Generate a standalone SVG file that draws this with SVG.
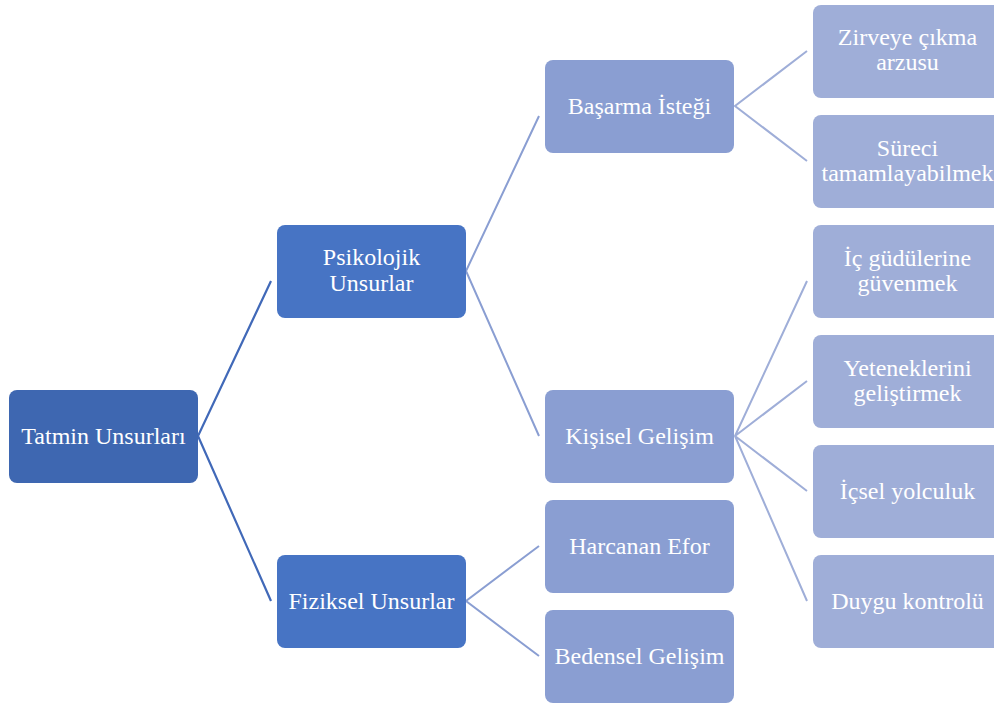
<svg xmlns="http://www.w3.org/2000/svg" width="994" height="704" viewBox="0 0 994 704">
<style>
.t{font-family:'Liberation Serif','Times New Roman',serif;font-size:24px;fill:#ffffff;text-anchor:middle}
.l0{fill:#3E67B1}
.l1{fill:#4774C4}
.l2{fill:#8A9ED2}
.l3{fill:#9FAED8}
.c0{stroke:#4169B8;stroke-width:2.2;fill:none}
.c1{stroke:#8A9ED2;stroke-width:2;fill:none}
.c2{stroke:#9FAED8;stroke-width:2;fill:none}
</style>
<rect width="994" height="704" fill="#ffffff"/>
<g id="connectors">
<polyline class="c0" points="271,281 198,436 271,601"/>
<polyline class="c1" points="539,116 466,271 539,436"/>
<polyline class="c1" points="539,546 466,601 539,656"/>
<polyline class="c2" points="807,51 735,106 807,161"/>
<path class="c2" d="M807,281 L735,436 L807,601 M735,436 L807,381 M735,436 L807,491"/>
</g>
<g id="n-root"><rect class="l0" x="9" y="390" width="189" height="93" rx="8"/><text class="t" x="103.5" y="444">Tatmin Unsurları</text></g>
<g id="n-psikolojik"><rect class="l1" x="277" y="225" width="189" height="93" rx="8"/><text class="t" x="371.5" y="265">Psikolojik</text><text class="t" x="371.5" y="291">Unsurlar</text></g>
<g id="n-fiziksel"><rect class="l1" x="277" y="555" width="189" height="93" rx="8"/><text class="t" x="371.5" y="609">Fiziksel Unsurlar</text></g>
<g id="n-basarma"><rect class="l2" x="545" y="60" width="189" height="93" rx="8"/><text class="t" x="639.5" y="114">Başarma İsteği</text></g>
<g id="n-kisisel"><rect class="l2" x="545" y="390" width="189" height="93" rx="8"/><text class="t" x="639.5" y="444">Kişisel Gelişim</text></g>
<g id="n-harcanan"><rect class="l2" x="545" y="500" width="189" height="93" rx="8"/><text class="t" x="639.5" y="554">Harcanan Efor</text></g>
<g id="n-bedensel"><rect class="l2" x="545" y="610" width="189" height="93" rx="8"/><text class="t" x="639.5" y="664">Bedensel Gelişim</text></g>
<g id="n-zirveye"><rect class="l3" x="813" y="5" width="189" height="93" rx="8"/><text class="t" x="907.5" y="45">Zirveye çıkma</text><text class="t" x="907.5" y="70">arzusu</text></g>
<g id="n-sureci"><rect class="l3" x="813" y="115" width="189" height="93" rx="8"/><text class="t" x="907.5" y="156">Süreci</text><text class="t" x="907.5" y="181">tamamlayabilmek</text></g>
<g id="n-ic"><rect class="l3" x="813" y="225" width="189" height="93" rx="8"/><text class="t" x="907.5" y="266">İç güdülerine</text><text class="t" x="907.5" y="291">güvenmek</text></g>
<g id="n-yetenek"><rect class="l3" x="813" y="335" width="189" height="93" rx="8"/><text class="t" x="907.5" y="376">Yeteneklerini</text><text class="t" x="907.5" y="401">geliştirmek</text></g>
<g id="n-icsel"><rect class="l3" x="813" y="445" width="189" height="93" rx="8"/><text class="t" x="907.5" y="499">İçsel yolculuk</text></g>
<g id="n-duygu"><rect class="l3" x="813" y="555" width="189" height="93" rx="8"/><text class="t" x="907.5" y="609">Duygu kontrolü</text></g>
</svg>
